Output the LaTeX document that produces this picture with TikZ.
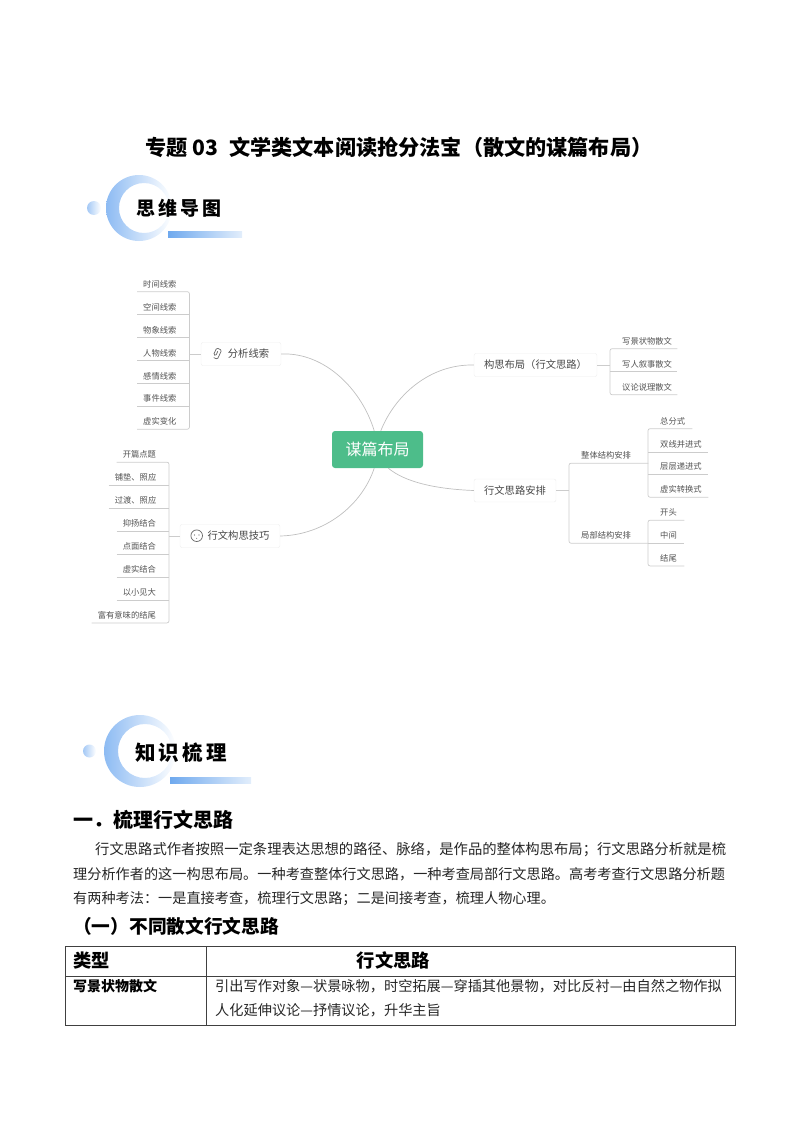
\documentclass[tikz,border=0pt]{standalone}
\usepackage{fontspec}
\setmainfont{Noto Sans CJK SC}
\usetikzlibrary{positioning}
\definecolor{rootgreen}{HTML}{4DBD8A}
\definecolor{ringblue}{HTML}{8DBBF3}
\definecolor{barblue}{HTML}{6FA9EE}
\newcommand{\fsize}[1]{\fontsize{#1}{#1}\selectfont}
\tikzset{
  root/.style={rectangle, rounded corners=3pt, minimum width=91pt, minimum height=37pt, fill=rootgreen, text=white, font=\fsize{16}},
  topic/.style={rectangle, rounded corners=2pt, minimum height=23pt, draw=black!7, fill=white, text=black!72, inner sep=0pt, font=\fsize{10.3}},
  leaf/.style={text width=#1, minimum height=15pt, inner sep=0pt, align=left, text=black!68, font=\fsize{8.3}, execute at begin node=\hspace*{6pt}},
  leafwide/.style={leaf=#1, execute at begin node=\hspace*{6pt}},
  branch/.style={draw=black!25, line width=0.7pt},
  leafline/.style={draw=black!20, line width=0.7pt, rounded corners=2pt},
  iconline/.style={draw=black!60, line width=0.7pt},
  titletext/.style={inner sep=0pt, font=\bfseries\fsize{21.15}},
  badgetext/.style={inner sep=0pt, font=\bfseries\fsize{#1}\addfontfeature{LetterSpace=15}},
  headtext/.style={anchor=west, inner sep=0pt, font=\bfseries\fsize{#1}},
  bodytext/.style={anchor=west, inner sep=0pt, text=black!85, font=\fsize{#1}},
  tableline/.style={draw=black!75, line width=0.9pt}
}
\begin{document}
\begin{tikzpicture}[x=1pt,y=-1pt]
	\useasboundingbox (0,0) rectangle (800,1132);
	\node[titletext] (title) at (399,147) {专题 03\hspace{6pt} 文学类文本阅读抢分法宝（散文的谋篇布局）};

	\shade[even odd rule,left color=ringblue,right color=white] (139,208) circle (33) (144,208) circle (25);
	\shade[left color=ringblue!80,right color=white] (94,208) circle (7);
	\shade[left color=barblue,right color=barblue!20] (168,231) rectangle (242,237);
	\node[badgetext=19] (mapbadge) at (179,208) {思维导图};

	\node[root] (root) at (377.5,449.5) {谋篇布局};

	\node[topic,minimum width=80pt] (clue) at (241,354) {\hspace*{15pt}分析线索};
	\node[topic,minimum width=100pt] (craft) at (230,536) {\hspace*{17pt}行文构思技巧};
	\node[topic,minimum width=123pt] (plan) at (535.5,365) {构思布局（行文思路）};
	\node[topic,minimum width=82pt] (arrange) at (515,490.5) {行文思路安排};

	\draw[iconline,rounded corners=1.2pt,rotate around={-25:(217,353)}] (217,351) -- (217,356) -- (214.6,356) -- (214.6,348.5) -- (220,348.5) -- (220,358.5) -- (216,358.5);
	\draw[iconline] (196.7,535.7) circle (5.8);
	\fill[black!60] (194.5,535) circle (0.7) (199,535) circle (0.7) (196.7,538.3) circle (0.5);

	\draw[branch] (clue.east) .. controls (325,352) and (362,390) .. (root.100);
	\draw[branch] (craft.east) .. controls (325,535) and (362,505) .. (root.260);
	\draw[branch] (plan.west) .. controls (430,364) and (395,395) .. (root.80);
	\draw[branch] (arrange.west) .. controls (435,489) and (405,482) .. (root.-60);

	\node[leaf=52pt,anchor=west] (clue1) at (137,284) {时间线索};
	\node[leaf=52pt,anchor=west] (clue2) at (137,307) {空间线索};
	\node[leaf=52pt,anchor=west] (clue3) at (137,330) {物象线索};
	\node[leaf=52pt,anchor=west] (clue4) at (137,353) {人物线索};
	\node[leaf=52pt,anchor=west] (clue5) at (137,376) {感情线索};
	\node[leaf=52pt,anchor=west] (clue6) at (137,398.5) {事件线索};
	\node[leaf=52pt,anchor=west] (clue7) at (137,421.5) {虚实变化};
	\draw[leafline] (clue1.south west) -- (clue1.south east) -- (clue7.south east) -- (clue7.south west);
	\draw[leafline] (clue2.south west) -- (clue2.south east);
	\draw[leafline] (clue3.south west) -- (clue3.south east);
	\draw[leafline] (clue4.south west) -- (clue4.south east);
	\draw[leafline] (clue5.south west) -- (clue5.south east);
	\draw[leafline] (clue6.south west) -- (clue6.south east);
	\draw[leafline] (clue.west) -- (clue.west -| clue4.south east);

	\node[leaf=52pt,anchor=east] (craft1) at (169,454.5) {开篇点题};
	\node[leaf=60pt,anchor=east] (craft2) at (169,477.5) {铺垫、照应};
	\node[leaf=60pt,anchor=east] (craft3) at (169,500.5) {过渡、照应};
	\node[leaf=52pt,anchor=east] (craft4) at (169,523.5) {抑扬结合};
	\node[leaf=52pt,anchor=east] (craft5) at (169,546.5) {点面结合};
	\node[leaf=52pt,anchor=east] (craft6) at (169,569.5) {虚实结合};
	\node[leaf=52pt,anchor=east] (craft7) at (169,592.5) {以小见大};
	\node[leaf=77pt,anchor=east] (craft8) at (169,615.2) {富有意味的结尾};
	\draw[leafline] (craft1.south west) -- (craft1.south east) -- (craft8.south east) -- (craft8.south west);
	\draw[leafline] (craft2.south west) -- (craft2.south east);
	\draw[leafline] (craft3.south west) -- (craft3.south east);
	\draw[leafline] (craft4.south west) -- (craft4.south east);
	\draw[leafline] (craft5.south west) -- (craft5.south east);
	\draw[leafline] (craft6.south west) -- (craft6.south east);
	\draw[leafline] (craft7.south west) -- (craft7.south east);
	\draw[leafline] (craft.west) -- (craft.west -| craft4.south east);

	\node[leafwide=67pt,anchor=west] (plan1) at (610,341) {写景状物散文};
	\node[leafwide=67pt,anchor=west] (plan2) at (610,364) {写人叙事散文};
	\node[leafwide=67pt,anchor=west] (plan3) at (610,387) {议论说理散文};
	\draw[leafline] (plan1.south east) -- (plan1.south west) -- (plan3.south west) -- (plan3.south east);
	\draw[leafline] (plan2.south west) -- (plan2.south east);
	\draw[leafline] (plan.east) -- (plan.east -| plan2.south west);

	\node[leafwide=79pt,anchor=west] (whole) at (569,455.5) {整体结构安排};
	\node[leafwide=79pt,anchor=west] (part) at (569,535.5) {局部结构安排};
	\draw[leafline] (whole.south east) -- (whole.south west) -- (part.south west) -- (part.south east);
	\draw[leafline] (arrange.east) -- (arrange.east -| whole.south west);

	\node[leafwide=44pt,anchor=west] (whole1) at (648,421) {总分式};
	\node[leafwide=60pt,anchor=west] (whole2) at (648,444.5) {双线并进式};
	\node[leafwide=60pt,anchor=west] (whole3) at (648,466.5) {层层递进式};
	\node[leafwide=60pt,anchor=west] (whole4) at (648,489.5) {虚实转换式};
	\draw[leafline] (whole1.south east) -- (whole1.south west) -- (whole4.south west) -- (whole4.south east);
	\draw[leafline] (whole2.south west) -- (whole2.south east);
	\draw[leafline] (whole3.south west) -- (whole3.south east);

	\node[leafwide=36pt,anchor=west] (part1) at (648,512.5) {开头};
	\node[leafwide=36pt,anchor=west] (part2) at (648,535.5) {中间};
	\node[leafwide=36pt,anchor=west] (part3) at (648,558.2) {结尾};
	\draw[leafline] (part1.south east) -- (part1.south west) -- (part3.south west) -- (part3.south east);
	\draw[leafline] (part2.south west) -- (part2.south east);

	\shade[even odd rule,left color=ringblue,right color=white] (140,751) circle (36) (145,751) circle (27);
	\shade[left color=ringblue!80,right color=white] (89.5,751) circle (6.5);
	\shade[left color=barblue,right color=barblue!20] (170,777) rectangle (251,783);
	\node[badgetext=20.5] (notebadge) at (181,752.5) {知识梳理};

	\node[headtext=20] (head1) at (73,820) {一．梳理行文思路};
	\node[bodytext=14.34] (line1) at (95,850) {行文思路式作者按照一定条理表达思想的路径、脉络，是作品的整体构思布局；行文思路分析就是梳};
	\node[bodytext=14.17] (line2) at (73,874.5) {理分析作者的这一构思布局。一种考查整体行文思路，一种考查局部行文思路。高考考查行文思路分析题};
	\node[bodytext=14.17] (line3) at (73,899) {有两种考法：一是直接考查，梳理行文思路；二是间接考查，梳理人物心理。};
	\node[headtext=18.7] (head2) at (73,926.5) {（一）不同散文行文思路};

	\draw[tableline] (65,946.7) rectangle (735,1025.7);
	\draw[tableline] (65,976.7) -- (735,976.7);
	\draw[tableline] (206.7,946.7) -- (206.7,1025.7);
	\node[headtext=18.3] (kind) at (73,960.5) {类型};
	\node[headtext=18.3] (route) at (356.5,960.5) {行文思路};
	\node[headtext=14] (scene) at (73,986.5) {写景状物散文};
	\node[bodytext=14.2] (cell1) at (215,986) {引出写作对象—状景咏物，时空拓展—穿插其他景物，对比反衬—由自然之物作拟};
	\node[bodytext=14.2] (cell2) at (215,1010) {人化延伸议论—抒情议论，升华主旨};
\end{tikzpicture}
\end{document}
